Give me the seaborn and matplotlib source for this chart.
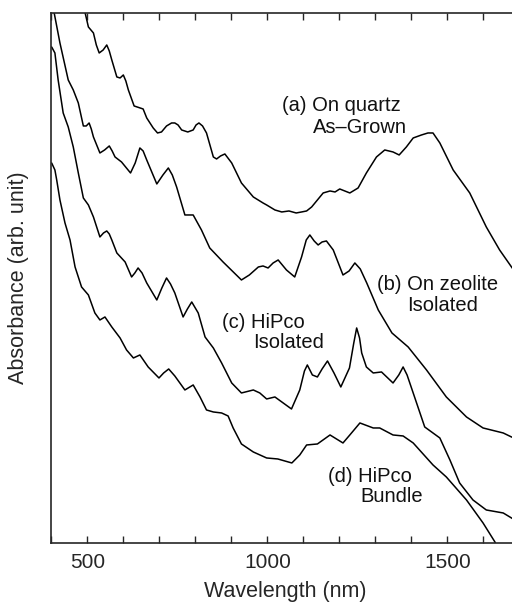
import numpy as np
import pandas as pd
import matplotlib
matplotlib.use('Agg')
import matplotlib.pyplot as plt
import seaborn as sns
from matplotlib.ticker import MultipleLocator

# wavelength (nm) and absorbance (arb. unit)
wl_a = [480, 494, 503, 517, 525, 533, 544, 554, 561, 568, 582, 591, 600, 607, 614, 630, 655, 665,
        683, 695, 706, 720, 734, 743, 752, 762, 779, 794, 802, 810, 820, 831, 850, 859, 870, 882,
        901, 928, 961, 988, 998, 1021, 1040, 1060, 1080, 1095, 1109, 1123, 1155, 1174, 1188, 1201,
        1215, 1229, 1252, 1275, 1303, 1326, 1349, 1366, 1386, 1405, 1428, 1446, 1460, 1479, 1516,
        1562, 1608, 1645, 1678, 1700]
abs_a = [548, 530, 516, 510, 498, 490, 493, 498, 492, 483, 466, 465, 468, 462, 453, 437, 434, 425,
         415, 410, 411, 417, 420, 420, 418, 413, 411, 413, 418, 420, 417, 410, 386, 384, 387, 389,
         380, 360, 346, 340, 338, 333, 331, 332, 330, 331, 332, 336, 350, 352, 351, 354,
         352, 350, 355, 370, 386, 393, 391, 388, 396, 405, 408, 410, 410, 400, 373,
         350, 316, 293, 276, 265]

wl_b = [401, 408, 424, 447, 461, 475, 489, 497, 505, 511, 517, 535, 548, 561, 569, 577, 595, 620,
        633, 646, 655, 665, 693, 710, 725, 736, 748, 771, 794, 817, 840, 877, 928, 950, 975, 988,
        1002, 1016, 1030, 1053, 1076, 1095, 1108, 1118, 1130, 1141, 1152, 1164, 1183, 1210, 1227,
        1243, 1258, 1276, 1308, 1346, 1391, 1442, 1497, 1553, 1599, 1655, 1678, 1700]
abs_b = [541, 530, 500, 463, 453, 440, 417, 417, 420, 414, 406, 390, 393, 397, 392, 386, 381, 370,
         380, 395, 392, 383, 359, 368, 375, 368, 356, 328, 328, 313, 295, 281, 263, 268, 276, 277,
         275, 280, 283, 273, 266, 286, 303, 308, 302, 298, 301, 302, 293, 268, 272,
         280, 274, 260, 233, 210, 196, 173, 146, 126, 115, 110, 106, 103]

wl_c = [401, 410, 419, 433, 447, 461, 475, 489, 503, 517, 535, 545, 554, 561, 568, 582, 605, 623,
        632, 641, 652, 665, 693, 707, 720, 731, 743, 766, 778, 790, 808, 827, 850, 873, 901, 928,
        961, 979, 998, 1021, 1067, 1090, 1103, 1111, 1125, 1139, 1152, 1167, 1185, 1204, 1228,
        1240, 1248, 1256, 1262, 1275, 1294, 1317, 1349, 1365, 1377, 1388, 1405, 1437, 1479, 1507,
        1534, 1571, 1608, 1655, 1678, 1700]
abs_c = [496, 490, 463, 430, 416, 396, 370, 345, 338, 326, 306, 310, 312, 309, 303, 290, 281, 266,
         270, 275, 270, 260, 243, 255, 265, 259, 250, 226, 234, 241, 230, 206, 195, 180, 160, 150,
         153, 150, 144, 146, 134, 153, 172, 178, 168, 166, 174, 182, 170, 156, 175,
         200, 215, 205, 190, 176, 170, 171, 160, 168, 176, 168, 150, 116, 105, 83,
         60, 43, 33, 30, 25, 20]

wl_d = [401, 410, 415, 424, 438, 452, 466, 484, 503, 521, 535, 549, 568, 591, 609, 628, 646, 669,
        699, 712, 726, 743, 771, 794, 813, 831, 850, 873, 891, 905, 928, 961, 998, 1029, 1068,
        1090, 1109, 1139, 1174, 1210, 1229, 1257, 1294, 1312, 1349, 1377, 1405, 1460, 1497, 1553,
        1599, 1632, 1645]
abs_d = [380, 373, 363, 343, 320, 303, 276, 256, 248, 230, 223, 226, 216, 205, 193, 185, 188, 176,
         165, 170, 174, 167, 153, 158, 146, 133, 131, 130, 127, 115, 99, 91, 85, 84, 80,
         88, 98, 99, 108, 100, 108, 120, 115, 115, 108, 107, 100, 78, 66, 43,
         20, 1, -10]

labels = [("(a) On quartz", 1040, 437), ("As\u2013Grown", 1126, 415),
          ("(b) On zeolite", 1304, 258), ("Isolated", 1387, 237),
          ("(c) HiPco", 874, 220), ("Isolated", 960, 200),
          ("(d) HiPco", 1168, 66), ("Bundle", 1257, 46)]

sns.set_style('ticks')
plt.rcParams['font.family'] = ['Liberation Sans', 'DejaVu Sans']

fig = plt.figure(figsize=(5.12, 6.06), dpi=100)
ax = fig.add_axes([0.1002, 0.104, 0.9143, 0.8746])

for wl, ab in [(wl_a, abs_a), (wl_b, abs_b), (wl_c, abs_c), (wl_d, abs_d)]:
    df = pd.DataFrame({'wl': wl, 'abs': ab})
    sns.lineplot(data=df, x='wl', y='abs', sort=False, estimator=None,
                 color='black', linewidth=1.1, ax=ax, solid_joinstyle='round')

for txt, x, y in labels:
    ax.text(x, y, txt, fontsize=14.5, ha='left', va='center', color='#111111')

ax.set_xlim(400, 1700)
ax.set_ylim(0, 530)
ax.xaxis.set_major_locator(MultipleLocator(500))
ax.xaxis.set_minor_locator(MultipleLocator(100))
ax.tick_params(axis='x', which='both', direction='in', top=True, bottom=True,
               length=5, width=1.0, labelsize=15, pad=7)
ax.set_yticks([])
for sp in ax.spines.values():
    sp.set_linewidth(1.2)
    sp.set_visible(True)
ax.set_xlabel('Wavelength (nm)', fontsize=15.5, labelpad=7)
ax.set_ylabel('Absorbance (arb. unit)', fontsize=15.5, labelpad=16)

fig.savefig('out.png', dpi=100)
